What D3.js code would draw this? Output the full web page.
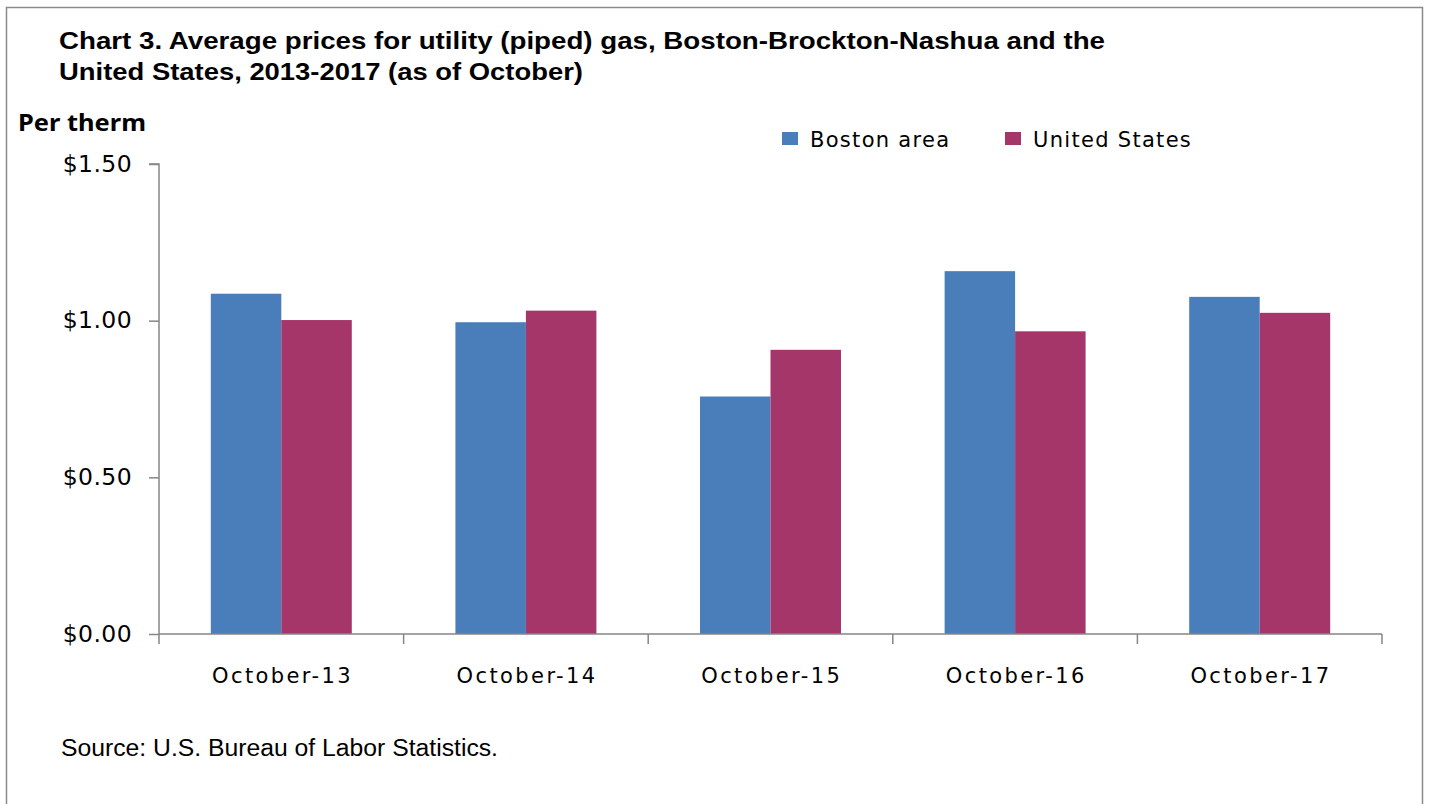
<!DOCTYPE html>
<html>
<head>
<meta charset="utf-8">
<script src="https://cdn.jsdelivr.net/npm/d3@7"></script>
<style>
  body { margin: 0; background: #fff; }
  svg text { fill: #000; }
</style>
</head>
<body>
<div id="chart"></div>
<script>
const categories = ['October-13', 'October-14', 'October-15', 'October-16', 'October-17'];
const seriesNames = ['Boston area', 'United States'];
const bostonValues = [1.086, 0.995, 0.758, 1.158, 1.076];
const usValues = [1.002, 1.032, 0.907, 0.966, 1.025];
const yTicks = [0, 0.5, 1.0, 1.5];
const colors = ['#4a7ebb', '#a5366a'];

const W = 1429, H = 804;
const svg = d3.select('#chart').append('svg').attr('width', W).attr('height', H);

// outer frame
svg.append('rect').attr('x', 6.5).attr('y', 7.5).attr('width', 1416).attr('height', 820)
  .attr('fill', 'none').attr('stroke', '#8a8a8a').attr('stroke-width', 1.5);

// title
const titleFont = '"Liberation Sans Narrow", "Arial Narrow", "Liberation Sans", sans-serif';
const title = svg.append('g').style('font-family', titleFont).style('font-weight', 'bold')
  .style('font-size', '24px').style('white-space', 'pre');
title.append('text').attr('x', 59).attr('y', 49)
  .attr('textLength', 1046).attr('lengthAdjust', 'spacingAndGlyphs')
  .text('Chart 3. Average prices for utility (piped) gas, Boston-Brockton-Nashua and the');
title.append('text').attr('x', 59).attr('y', 80)
  .attr('textLength', 524).attr('lengthAdjust', 'spacingAndGlyphs')
  .text('United  States, 2013-2017 (as of October)');

svg.append('text').attr('x', 18).attr('y', 131)
  .style('font-family', '"Noto Sans", sans-serif').style('font-weight', 'bold').style('font-size', '23px')
  .attr('textLength', 128).attr('lengthAdjust', 'spacingAndGlyphs')
  .text('Per therm');

const x0 = d3.scaleBand().domain(categories).range([159, 1382]).padding(0);
const x1 = d3.scaleBand().domain(seriesNames).range([0, x0.bandwidth()]).paddingInner(0).paddingOuter(0.735);
const y = d3.scaleLinear().domain([0, 1.5]).range([634, 164]);

const axisFont = '"DejaVu Sans", Verdana, sans-serif';

// y axis
const yAxis = svg.append('g').attr('transform', 'translate(159,0)')
  .call(d3.axisLeft(y).tickValues(yTicks).tickSize(10).tickPadding(17).tickFormat(d => '$' + d.toFixed(2)));
yAxis.selectAll('path, line').attr('stroke', '#868686').attr('stroke-width', 1.5);
yAxis.select('.domain').attr('d', `M-10,${y(1.5)}H0V${y(0)}`);
yAxis.selectAll('text').style('font-family', axisFont).style('font-size', '23.5px')
  .style('letter-spacing', '0.4px').attr('dy', '0.3em').attr('fill', '#000');

// bars
const rows = categories.map((c, i) => ({ cat: c, vals: [bostonValues[i], usValues[i]] }));
const groups = svg.selectAll('.grp').data(rows).enter().append('g')
  .attr('transform', d => `translate(${x0(d.cat)},0)`);
groups.selectAll('rect').data(d => d.vals.map((v, j) => ({ s: seriesNames[j], v, j }))).enter().append('rect')
  .attr('x', d => x1(d.s)).attr('width', x1.bandwidth())
  .attr('y', d => y(d.v)).attr('height', d => y(0) - y(d.v))
  .attr('fill', d => colors[d.j]);

// x axis
const xAxis = svg.append('g').attr('transform', `translate(0,${y(0)})`)
  .call(d3.axisBottom(x0).tickSize(0).tickPadding(34));
xAxis.selectAll('path, line').attr('stroke', '#868686').attr('stroke-width', 1.5);
xAxis.select('.domain').attr('d', `M159,0H1382`);
xAxis.selectAll('text').style('font-family', axisFont).style('font-size', '21px')
  .style('letter-spacing', '2.4px').attr('dx', '1.2px').attr('fill', '#000');
const bounds = categories.map(c => x0(c)).concat([x0.range()[1]]);
xAxis.selectAll('.bound').data(bounds).enter().append('line')
  .attr('x1', d => d).attr('x2', d => d).attr('y1', 0).attr('y2', 10)
  .attr('stroke', '#868686').attr('stroke-width', 1.5);

// legend
const legend = svg.append('g').style('font-family', axisFont).style('font-size', '21px');
const legendX = [782, 1005];
seriesNames.forEach((name, i) => {
  legend.append('rect').attr('x', legendX[i]).attr('y', 132).attr('width', 16).attr('height', 13).attr('fill', colors[i]);
  legend.append('text').attr('x', legendX[i] + 28).attr('y', 147).style('letter-spacing', '1.3px').text(name);
});

// source
svg.append('text').attr('x', 61).attr('y', 756)
  .style('font-family', titleFont).style('font-size', '23px')
  .attr('textLength', 437).attr('lengthAdjust', 'spacingAndGlyphs')
  .text('Source: U.S. Bureau of Labor Statistics.');
</script>
</body>
</html>
